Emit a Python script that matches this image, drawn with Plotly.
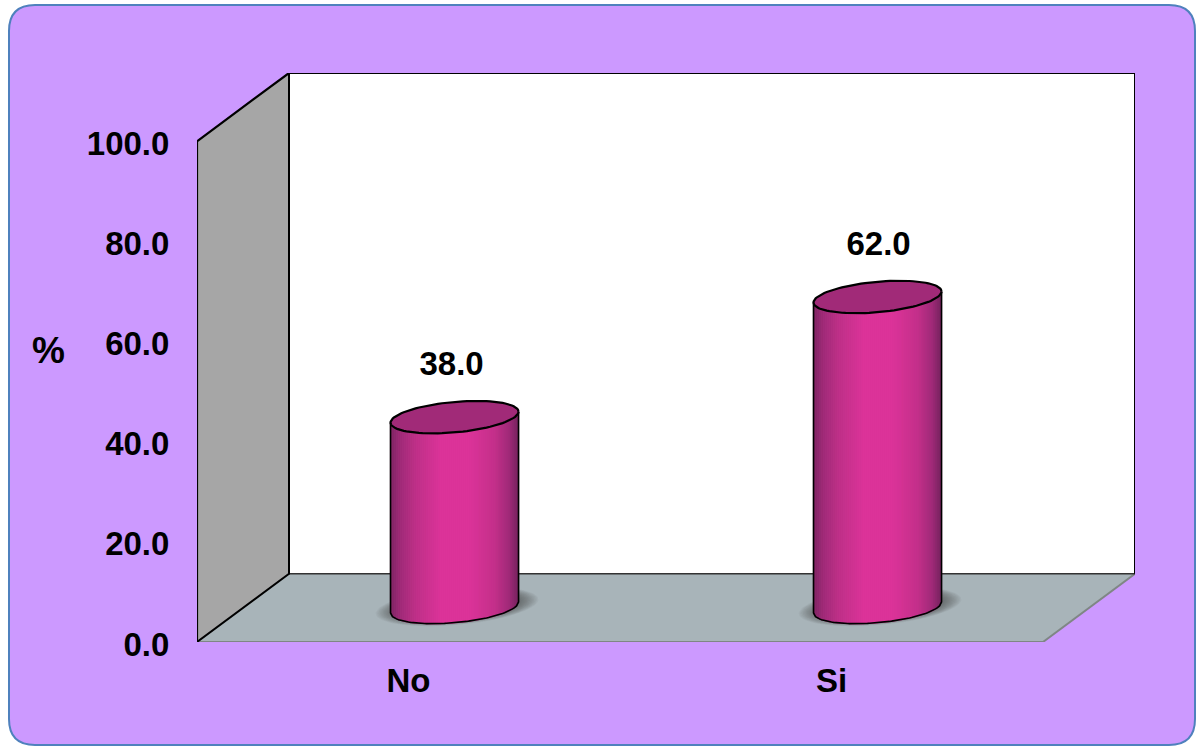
import math
import plotly.graph_objects as go

# Chart values
categories = ["No", "Si"]
percentages = [38.0, 62.0]
y_ticks = [0, 20, 40, 60, 80, 100]
y_tick_labels = ["0.0", "20.0", "40.0", "60.0", "80.0", "100.0"]
y_title = "%"

# Figure size and margins, in pixels
WIDTH, HEIGHT = 1196, 746
M_L, M_R, M_T, M_B = 197, 61, 73, 104

# Box depth and cylinder proportions, in axis units
DEPTH_X = 0.2175
DEPTH_Y = 13.63
X_LOW, X_FRONT_HIGH = -0.5, 1.5
Y_TOP = 100
CYL_HALF_W = 0.1513
CYL_SHIFT_X = 0.1088
CYL_BASE_Y = 6.9
CYL_TILT = 1.1
CYL_SAG = 3.05
LABEL_GAP = 10.1
LABEL_NUDGE_X = [-0.007, 0.0024]
STRIPS = 64

FONT = "Liberation Sans, Arial, sans-serif"
FRAME_FILL = "#CC99FF"
FRAME_LINE = "#4F81BD"
WALL_FILL = "#A6A6A6"
FLOOR_FILL = "#A8B4B9"
TOP_FILL = "#A12A78"
GRADIENT = [
    (0.00, (125, 36, 98)),
    (0.08, (160, 43, 120)),
    (0.20, (190, 48, 136)),
    (0.40, (220, 51, 153)),
    (0.62, (220, 51, 153)),
    (0.82, (195, 48, 138)),
    (0.93, (160, 42, 120)),
    (1.00, (120, 35, 95)),
]


def shade(u):
    """Body colour at fraction u across the cylinder."""
    for (u0, c0), (u1, c1) in zip(GRADIENT, GRADIENT[1:]):
        if u <= u1:
            k = (u - u0) / (u1 - u0)
            r, g, b = (round(a + (b - a) * k) for a, b in zip(c0, c1))
            return f"rgb({r},{g},{b})"
    return "rgb(120,35,95)"


def polygon(xs, ys, fill, line="rgba(0,0,0,0)", width=0):
    return go.Scatter(
        x=xs, y=ys, mode="lines", fill="toself", fillcolor=fill,
        line=dict(color=line, width=width), hoverinfo="skip",
        showlegend=False, cliponaxis=False,
    )


def stroke(xs, ys, color="#000000", width=2.0):
    return go.Scatter(
        x=xs, y=ys, mode="lines", line=dict(color=color, width=width),
        hoverinfo="skip", showlegend=False, cliponaxis=False,
    )


def ellipse(cx, cy, half_w, tilt, sag, n=96):
    ts = [2 * math.pi * i / n for i in range(n + 1)]
    return (
        [cx + half_w * math.cos(t) for t in ts],
        [cy + tilt * math.cos(t) + sag * math.sin(t) for t in ts],
    )


def lower_edge(cx, cy, x):
    c = max(-1.0, min(1.0, (x - cx) / CYL_HALF_W))
    return cy + CYL_TILT * c - CYL_SAG * math.sqrt(1 - c * c)


fig = go.Figure()

# Box: floor, side wall and back wall
x_high = X_FRONT_HIGH + DEPTH_X
x_back = X_LOW + DEPTH_X
fig.add_trace(polygon(
    [x_back, x_back, x_high, x_high, x_back],
    [DEPTH_Y, Y_TOP + DEPTH_Y, Y_TOP + DEPTH_Y, DEPTH_Y, DEPTH_Y],
    "#FFFFFF",
))
fig.add_trace(polygon(
    [X_LOW, X_FRONT_HIGH, x_high, x_back, X_LOW],
    [0, 0, DEPTH_Y, DEPTH_Y, 0],
    FLOOR_FILL,
))
fig.add_trace(polygon(
    [X_LOW, X_LOW, x_back, x_back, X_LOW],
    [0, Y_TOP, Y_TOP + DEPTH_Y, DEPTH_Y, 0],
    WALL_FILL,
))
fig.add_trace(stroke([X_FRONT_HIGH, x_high], [0, DEPTH_Y], "#7F8685", 2))
fig.add_trace(stroke([X_LOW, X_FRONT_HIGH], [0, 0], "#7F8685", 2))
fig.add_trace(stroke([x_back, x_high], [DEPTH_Y, DEPTH_Y], "#333333", 1.6))
fig.add_trace(stroke(
    [X_LOW, x_back, x_back, x_high, x_high],
    [0, DEPTH_Y, Y_TOP + DEPTH_Y, Y_TOP + DEPTH_Y, DEPTH_Y],
    "#000000", 2.0,
))
fig.add_trace(stroke(
    [x_back, X_LOW, X_LOW], [Y_TOP + DEPTH_Y, Y_TOP, 0], "#000000", 2.2,
))

# Cylinders, one per category
for i, value in enumerate(percentages):
    cx = i + CYL_SHIFT_X
    base = CYL_BASE_Y
    top = base + value

    # Soft contact shadow on the floor
    for k in range(14):
        grow = 1.27 - k * 0.022
        xs, ys = ellipse(cx + 0.006, base + 0.2, CYL_HALF_W * grow,
                         CYL_TILT * grow, CYL_SAG * grow * 0.95)
        fig.add_trace(polygon(xs, ys, "rgba(50,55,58,0.05)"))

    # Shaded body, built from narrow vertical strips
    left = cx - CYL_HALF_W
    step = 2 * CYL_HALF_W / STRIPS
    for s in range(STRIPS):
        x0, x1 = left + s * step, left + (s + 1) * step
        color = shade((s + 0.5) / STRIPS)
        y0, y1 = lower_edge(cx, base, x0), lower_edge(cx, base, x1)
        fig.add_trace(polygon(
            [x0, x1, x1, x0, x0],
            [y0, y1, y1 + value, y0 + value, y0],
            color, color, 1.2,
        ))

    # Body outline: two sides and the curved front foot
    arc_x = [left + j * step for j in range(STRIPS + 1)]
    arc_y = [lower_edge(cx, base, x) for x in arc_x]
    fig.add_trace(stroke(
        [left] + arc_x + [cx + CYL_HALF_W],
        [top - CYL_TILT] + arc_y + [top + CYL_TILT],
        "#000000", 1.6,
    ))

    # Top face
    xs, ys = ellipse(cx, top, CYL_HALF_W, CYL_TILT, CYL_SAG)
    fig.add_trace(polygon(xs, ys, TOP_FILL, "#000000", 2.2))

# Value labels above each cylinder
fig.add_trace(go.Scatter(
    x=[i + CYL_SHIFT_X + LABEL_NUDGE_X[i] for i in range(len(percentages))],
    y=[CYL_BASE_Y + v + LABEL_GAP for v in percentages],
    mode="text",
    text=[f"{v:.1f}" for v in percentages],
    textposition="middle center",
    textfont=dict(family=FONT, size=33, color="#000000", weight="bold"),
    hoverinfo="skip", showlegend=False, cliponaxis=False,
))


def px_x(v):
    return (v - M_L) / (WIDTH - M_L - M_R)


def px_y(v):
    return (HEIGHT - M_B - v) / (HEIGHT - M_T - M_B)


# Rounded panel behind the whole chart
f_l, f_r, f_t, f_b, rad = 9, 1195, 5, 745, 26
fl, fr = px_x(f_l), px_x(f_r)
ft, fb = px_y(f_t), px_y(f_b)
rx = rad / (WIDTH - M_L - M_R)
ry = rad / (HEIGHT - M_T - M_B)
panel = (
    f"M {fl + rx} {ft} L {fr - rx} {ft} Q {fr} {ft} {fr} {ft - ry} "
    f"L {fr} {fb + ry} Q {fr} {fb} {fr - rx} {fb} "
    f"L {fl + rx} {fb} Q {fl} {fb} {fl} {fb + ry} "
    f"L {fl} {ft - ry} Q {fl} {ft} {fl + rx} {ft} Z"
)

fig.update_layout(
    width=WIDTH, height=HEIGHT,
    margin=dict(l=M_L, r=M_R, t=M_T, b=M_B, autoexpand=False),
    paper_bgcolor="#FFFFFF",
    plot_bgcolor="rgba(0,0,0,0)",
    showlegend=False,
    font=dict(family=FONT, color="#000000"),
    shapes=[dict(
        type="path", path=panel, xref="paper", yref="paper", layer="below",
        fillcolor=FRAME_FILL, line=dict(color=FRAME_LINE, width=2),
    )],
    annotations=[dict(
        text=f"<b>{y_title}</b>", xref="paper", yref="paper",
        x=px_x(48.5), y=px_y(350), xanchor="center", yanchor="middle",
        showarrow=False,
        font=dict(family=FONT, size=37, color="#000000"),
    )],
    xaxis=dict(
        range=[X_LOW, x_high], tickmode="array", tickvals=list(range(len(categories))),
        ticktext=categories, showgrid=False, zeroline=False, showline=False,
        ticks="outside", ticklen=9, tickcolor="rgba(0,0,0,0)",
        tickfont=dict(family=FONT, size=33, color="#000000", weight="bold"),
    ),
    yaxis=dict(
        range=[0, Y_TOP + DEPTH_Y], tickmode="array", tickvals=y_ticks,
        ticktext=y_tick_labels, showgrid=False, zeroline=False, showline=False,
        ticks="outside", ticklen=20, tickcolor="rgba(0,0,0,0)",
        ticklabelshift=2,
        tickfont=dict(family=FONT, size=33, color="#000000", weight="bold"),
    ),
)

fig.write_html("out.html")
